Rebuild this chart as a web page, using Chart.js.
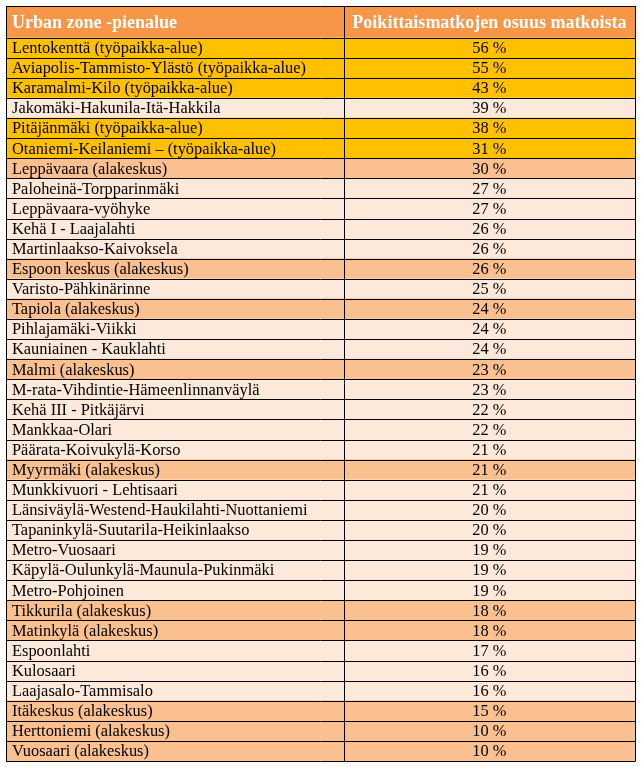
<!DOCTYPE html>
<html>
<head>
<meta charset="utf-8">
<script src="https://cdn.jsdelivr.net/npm/chart.js@4"></script>
<style>
  html, body { margin: 0; padding: 0; background: #fff; }
  #wrap { width: 644px; height: 767px; }
</style>
</head>
<body>
<div id="wrap"><canvas id="zoneTable" width="644" height="767"></canvas></div>
<script>
// table data
const headerLabels = ["Urban zone -pienalue", "Poikittaismatkojen osuus matkoista"];

const zones = [
  "Lentokenttä (työpaikka-alue)",
  "Aviapolis-Tammisto-Ylästö (työpaikka-alue)",
  "Karamalmi-Kilo (työpaikka-alue)",
  "Jakomäki-Hakunila-Itä-Hakkila",
  "Pitäjänmäki (työpaikka-alue)",
  "Otaniemi-Keilaniemi – (työpaikka-alue)",
  "Leppävaara (alakeskus)",
  "Paloheinä-Torpparinmäki",
  "Leppävaara-vyöhyke",
  "Kehä I - Laajalahti",
  "Martinlaakso-Kaivoksela",
  "Espoon keskus (alakeskus)",
  "Varisto-Pähkinärinne",
  "Tapiola (alakeskus)",
  "Pihlajamäki-Viikki",
  "Kauniainen - Kauklahti",
  "Malmi (alakeskus)",
  "M-rata-Vihdintie-Hämeenlinnanväylä",
  "Kehä III - Pitkäjärvi",
  "Mankkaa-Olari",
  "Päärata-Koivukylä-Korso",
  "Myyrmäki (alakeskus)",
  "Munkkivuori - Lehtisaari",
  "Länsiväylä-Westend-Haukilahti-Nuottaniemi",
  "Tapaninkylä-Suutarila-Heikinlaakso",
  "Metro-Vuosaari",
  "Käpylä-Oulunkylä-Maunula-Pukinmäki",
  "Metro-Pohjoinen",
  "Tikkurila (alakeskus)",
  "Matinkylä (alakeskus)",
  "Espoonlahti",
  "Kulosaari",
  "Laajasalo-Tammisalo",
  "Itäkeskus (alakeskus)",
  "Herttoniemi (alakeskus)",
  "Vuosaari (alakeskus)"
];

const shares = [56, 55, 43, 39, 38, 31, 30, 27, 27, 26, 26, 26, 25, 24, 24, 24, 23, 23, 22, 22,
  21, 21, 21, 20, 20, 19, 19, 19, 18, 18, 17, 16, 16, 15, 10, 10];

// W = työpaikka-alue, S = alakeskus, O = other zone
const zoneTypes = ["W", "W", "W", "O", "W", "W", "S", "O", "O", "O", "O", "S", "O", "S", "O", "O",
  "S", "O", "O", "O", "O", "S", "O", "O", "O", "O", "O", "O", "S", "S", "O", "O", "O", "S", "S", "S"];

const typeColors = { W: "#FFC000", S: "#FAC090", O: "#FDE9D9" };
const headerColor = "#F79646";
const lineColor = "#000000";
const colSplit = 53.7; // first column share of table width (x units 0..100)

const rowColors = zoneTypes.map((t) => typeColors[t]);

// draws header row, cell text and grid lines
const tablePlugin = {
  id: "tablePlugin",
  beforeDatasetsDraw(chart) {
    const ctx = chart.ctx;
    const x = chart.scales.x;
    const top = chart.chartArea.top;
    ctx.save();
    ctx.fillStyle = headerColor;
    ctx.fillRect(x.getPixelForValue(0), 6, x.getPixelForValue(100) - x.getPixelForValue(0), top - 6);
    ctx.restore();
  },
  afterDatasetsDraw(chart) {
    const ctx = chart.ctx;
    const x = chart.scales.x;
    const y = chart.scales.y;
    const area = chart.chartArea;
    const x0 = x.getPixelForValue(0);
    const xs = x.getPixelForValue(colSplit);
    const x1 = x.getPixelForValue(100);
    const rowH = y.getPixelForValue(1) - y.getPixelForValue(0);

    ctx.save();
    // header text
    ctx.fillStyle = "#ffffff";
    ctx.font = "bold 18px 'Liberation Serif', 'Times New Roman', serif";
    ctx.textBaseline = "middle";
    const hy = (6 + area.top) / 2 + 1;
    ctx.textAlign = "left";
    ctx.fillText(headerLabels[0], x0 + 6, hy);
    ctx.textAlign = "center";
    ctx.fillText(headerLabels[1], (xs + x1) / 2, hy);

    // row text
    ctx.fillStyle = "#000000";
    ctx.font = "16.4px 'Liberation Serif', 'Times New Roman', serif";
    zones.forEach((z, i) => {
      const cy = y.getPixelForValue(i) + 1;
      ctx.textAlign = "left";
      ctx.fillText(z, x0 + 6, cy);
      ctx.textAlign = "center";
      ctx.fillText(shares[i] + " %", (xs + x1) / 2, cy);
    });

    // grid lines
    ctx.strokeStyle = lineColor;
    ctx.lineWidth = 1;
    ctx.beginPath();
    const lines = [6, area.top];
    zones.forEach((z, i) => lines.push(y.getPixelForValue(i) + rowH / 2));
    lines.forEach((ly) => {
      const py = Math.round(ly) + 0.5;
      ctx.moveTo(x0, py);
      ctx.lineTo(x1, py);
    });
    [x0, xs, x1].forEach((lx) => {
      const px = Math.round(lx) + 0.5;
      ctx.moveTo(px, 6);
      ctx.lineTo(px, Math.round(area.bottom) + 0.5);
    });
    ctx.stroke();
    ctx.restore();
  }
};

const ctx = document.getElementById("zoneTable").getContext("2d");
const zoneChart = new Chart(ctx, {
  type: "bar",
  data: {
    labels: zones,
    datasets: [
      {
        label: headerLabels[0],
        data: zones.map(() => [0, colSplit]),
        backgroundColor: rowColors,
        borderWidth: 0,
        barPercentage: 1,
        categoryPercentage: 1
      },
      {
        label: headerLabels[1],
        data: shares.map(() => [colSplit, 100]),
        backgroundColor: rowColors,
        borderWidth: 0,
        barPercentage: 1,
        categoryPercentage: 1
      }
    ]
  },
  options: {
    indexAxis: "y",
    responsive: false,
    animation: false,
    events: [],
    layout: { padding: { left: 6, right: 9, top: 37.7, bottom: 6 } },
    scales: {
      x: { type: "linear", min: 0, max: 100, display: false, stacked: false },
      y: { type: "category", offset: true, display: false, stacked: true }
    },
    plugins: {
      legend: { display: false },
      tooltip: { enabled: false }
    }
  },
  plugins: [tablePlugin]
});
</script>
</body>
</html>
